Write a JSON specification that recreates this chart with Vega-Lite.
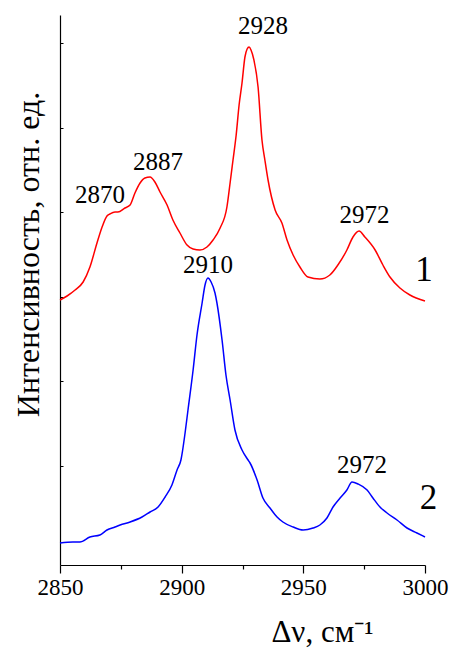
{
  "$schema": "https://vega.github.io/schema/vega-lite/v6.json",
  "width": 365,
  "height": 550,
  "autosize": {"type": "none"},
  "padding": {"left": 60, "top": 15, "right": 28, "bottom": 83},
  "background": "white",
  "config": {"view": {"stroke": null}},
  "datasets": {
    "curves": [
      {"wn": 2850.0, "i": 265, "s": "1"}, {"wn": 2852.9, "i": 269, "s": "1"}, {"wn": 2856.2, "i": 275, "s": "1"}, {"wn": 2859.5, "i": 283, "s": "1"},
      {"wn": 2862.3, "i": 298, "s": "1"}, {"wn": 2865.2, "i": 322, "s": "1"}, {"wn": 2867.3, "i": 338, "s": "1"}, {"wn": 2869.3, "i": 349, "s": "1"},
      {"wn": 2870.5, "i": 351, "s": "1"}, {"wn": 2872.6, "i": 353, "s": "1"}, {"wn": 2873.8, "i": 353, "s": "1"}, {"wn": 2876.7, "i": 357, "s": "1"},
      {"wn": 2878.8, "i": 360, "s": "1"}, {"wn": 2880.8, "i": 372, "s": "1"}, {"wn": 2882.9, "i": 382, "s": "1"}, {"wn": 2884.9, "i": 387, "s": "1"},
      {"wn": 2887.0, "i": 388, "s": "1"}, {"wn": 2889.0, "i": 383, "s": "1"}, {"wn": 2891.1, "i": 373, "s": "1"}, {"wn": 2894.0, "i": 360, "s": "1"},
      {"wn": 2896.4, "i": 345, "s": "1"}, {"wn": 2899.3, "i": 332, "s": "1"}, {"wn": 2902.2, "i": 320, "s": "1"}, {"wn": 2904.7, "i": 316, "s": "1"},
      {"wn": 2907.5, "i": 315, "s": "1"}, {"wn": 2910.4, "i": 318, "s": "1"}, {"wn": 2912.9, "i": 325, "s": "1"}, {"wn": 2915.8, "i": 337, "s": "1"},
      {"wn": 2918.6, "i": 358, "s": "1"}, {"wn": 2919.9, "i": 382, "s": "1"}, {"wn": 2921.1, "i": 405, "s": "1"}, {"wn": 2922.4, "i": 430, "s": "1"},
      {"wn": 2923.6, "i": 460, "s": "1"}, {"wn": 2924.8, "i": 482, "s": "1"}, {"wn": 2926.0, "i": 508, "s": "1"}, {"wn": 2926.9, "i": 516, "s": "1"},
      {"wn": 2927.7, "i": 518, "s": "1"}, {"wn": 2928.5, "i": 515, "s": "1"}, {"wn": 2929.7, "i": 505, "s": "1"}, {"wn": 2931.4, "i": 478, "s": "1"},
      {"wn": 2933.0, "i": 425, "s": "1"}, {"wn": 2934.2, "i": 405, "s": "1"}, {"wn": 2935.5, "i": 385, "s": "1"}, {"wn": 2938.4, "i": 355, "s": "1"},
      {"wn": 2941.2, "i": 342, "s": "1"}, {"wn": 2943.3, "i": 325, "s": "1"}, {"wn": 2945.8, "i": 310, "s": "1"}, {"wn": 2948.6, "i": 298, "s": "1"},
      {"wn": 2951.9, "i": 288, "s": "1"}, {"wn": 2956.8, "i": 286, "s": "1"}, {"wn": 2960.9, "i": 290, "s": "1"}, {"wn": 2964.2, "i": 300, "s": "1"},
      {"wn": 2967.9, "i": 315, "s": "1"}, {"wn": 2970.4, "i": 328, "s": "1"}, {"wn": 2972.9, "i": 334, "s": "1"}, {"wn": 2975.3, "i": 328, "s": "1"},
      {"wn": 2979.5, "i": 315, "s": "1"}, {"wn": 2982.7, "i": 300, "s": "1"}, {"wn": 2985.6, "i": 288, "s": "1"}, {"wn": 2989.7, "i": 277, "s": "1"},
      {"wn": 2993.8, "i": 270, "s": "1"}, {"wn": 3000.0, "i": 264, "s": "1"},
      {"wn": 2850.0, "i": 22, "s": "2"}, {"wn": 2855.3, "i": 23, "s": "2"}, {"wn": 2858.2, "i": 23, "s": "2"}, {"wn": 2862.3, "i": 28, "s": "2"},
      {"wn": 2866.4, "i": 30, "s": "2"}, {"wn": 2869.3, "i": 35, "s": "2"}, {"wn": 2872.6, "i": 38, "s": "2"}, {"wn": 2874.7, "i": 40, "s": "2"},
      {"wn": 2878.8, "i": 43, "s": "2"}, {"wn": 2883.7, "i": 48, "s": "2"}, {"wn": 2887.0, "i": 53, "s": "2"}, {"wn": 2890.3, "i": 58, "s": "2"},
      {"wn": 2893.2, "i": 68, "s": "2"}, {"wn": 2896.0, "i": 80, "s": "2"}, {"wn": 2898.1, "i": 95, "s": "2"}, {"wn": 2899.7, "i": 105, "s": "2"},
      {"wn": 2901.4, "i": 132, "s": "2"}, {"wn": 2902.6, "i": 155, "s": "2"}, {"wn": 2904.7, "i": 195, "s": "2"}, {"wn": 2906.3, "i": 230, "s": "2"},
      {"wn": 2908.4, "i": 262, "s": "2"}, {"wn": 2909.6, "i": 280, "s": "2"}, {"wn": 2910.8, "i": 287, "s": "2"}, {"wn": 2912.1, "i": 283, "s": "2"},
      {"wn": 2913.7, "i": 272, "s": "2"}, {"wn": 2914.5, "i": 262, "s": "2"}, {"wn": 2916.6, "i": 225, "s": "2"}, {"wn": 2918.2, "i": 190, "s": "2"},
      {"wn": 2919.9, "i": 165, "s": "2"}, {"wn": 2921.9, "i": 135, "s": "2"}, {"wn": 2924.8, "i": 115, "s": "2"}, {"wn": 2927.3, "i": 105, "s": "2"},
      {"wn": 2928.1, "i": 102, "s": "2"}, {"wn": 2931.0, "i": 85, "s": "2"}, {"wn": 2933.4, "i": 67, "s": "2"}, {"wn": 2936.3, "i": 57, "s": "2"},
      {"wn": 2939.2, "i": 48, "s": "2"}, {"wn": 2941.6, "i": 43, "s": "2"}, {"wn": 2945.8, "i": 38, "s": "2"}, {"wn": 2949.9, "i": 35, "s": "2"},
      {"wn": 2954.0, "i": 37, "s": "2"}, {"wn": 2956.8, "i": 40, "s": "2"}, {"wn": 2959.7, "i": 47, "s": "2"}, {"wn": 2962.2, "i": 58, "s": "2"},
      {"wn": 2965.1, "i": 67, "s": "2"}, {"wn": 2967.9, "i": 75, "s": "2"}, {"wn": 2970.0, "i": 83, "s": "2"}, {"wn": 2972.5, "i": 81, "s": "2"},
      {"wn": 2976.2, "i": 75, "s": "2"}, {"wn": 2978.6, "i": 67, "s": "2"}, {"wn": 2981.5, "i": 58, "s": "2"}, {"wn": 2984.4, "i": 52, "s": "2"},
      {"wn": 2988.5, "i": 45, "s": "2"}, {"wn": 2992.6, "i": 37, "s": "2"}, {"wn": 2996.7, "i": 32, "s": "2"}, {"wn": 3000.0, "i": 28, "s": "2"}
    ],
    "peaks": [
      {"wn": 2866.4, "i": 370, "t": "2870"},
      {"wn": 2890.3, "i": 403, "t": "2887"},
      {"wn": 2933.4, "i": 539, "t": "2928"},
      {"wn": 2975.1, "i": 350, "t": "2972"},
      {"wn": 2910.8, "i": 300, "t": "2910"},
      {"wn": 2974.1, "i": 100, "t": "2972"}
    ],
    "series": [
      {"wn": 2999.6, "i": 295, "t": "1"},
      {"wn": 3001.4, "i": 67, "t": "2"}
    ]
  },
  "layer": [
    {
      "data": {"name": "curves"},
      "mark": {"type": "line", "strokeWidth": 1.5, "interpolate": "monotone"},
      "encoding": {
        "x": {
          "field": "wn", "type": "quantitative",
          "scale": {"domain": [2850, 3000], "nice": false, "zero": false},
          "axis": {
            "values": [2850, 2875, 2900, 2925, 2950, 2975, 3000],
            "labelExpr": "datum.value % 50 === 0 ? datum.label : ''",
            "format": "d",
            "grid": false,
            "domainColor": "black", "domainWidth": 1.2,
            "tickColor": "black", "tickWidth": 1.2,
            "tickSize": {"condition": {"test": "datum.value % 50 === 0", "value": 8}, "value": 4},
            "labelFont": "Liberation Serif", "labelFontSize": 23, "labelColor": "black",
            "labelPadding": 3, "labelFlush": false, "labelOverlap": false,
            "title": "Δν, см⁻¹",
            "titleFont": "Liberation Serif", "titleFontSize": 31, "titleFontWeight": "normal", "titleColor": "black",
            "titleX": 262, "titleY": 76, "titleBaseline": "alphabetic"
          }
        },
        "y": {
          "field": "i", "type": "quantitative",
          "scale": {"domain": [0, 550], "nice": false, "zero": false},
          "axis": {
            "values": [99, 184, 268, 353, 437, 522],
            "labels": false,
            "grid": false,
            "domainColor": "black", "domainWidth": 1.2,
            "tickColor": "black", "tickWidth": 1,
            "tickSize": -3,
            "title": "Интенсивность, отн. ед.",
            "titleFont": "Liberation Serif", "titleFontSize": 32, "titleFontWeight": "normal", "titleColor": "black",
            "titleX": -22, "titleY": 239, "titleBaseline": "alphabetic", "titleAngle": -90
          }
        },
        "color": {
          "field": "s", "type": "nominal",
          "scale": {"domain": ["1", "2"], "range": ["#ff0000", "#0000ff"]},
          "legend": null
        }
      }
    },
    {
      "data": {"name": "peaks"},
      "mark": {"type": "text", "font": "Liberation Serif", "fontSize": 25, "color": "black", "align": "center", "baseline": "middle"},
      "encoding": {
        "x": {"field": "wn", "type": "quantitative"},
        "y": {"field": "i", "type": "quantitative"},
        "text": {"field": "t"}
      }
    },
    {
      "data": {"name": "series"},
      "mark": {"type": "text", "font": "Liberation Serif", "fontSize": 35, "color": "black", "align": "center", "baseline": "middle"},
      "encoding": {
        "x": {"field": "wn", "type": "quantitative"},
        "y": {"field": "i", "type": "quantitative"},
        "text": {"field": "t"}
      }
    }
  ]
}
